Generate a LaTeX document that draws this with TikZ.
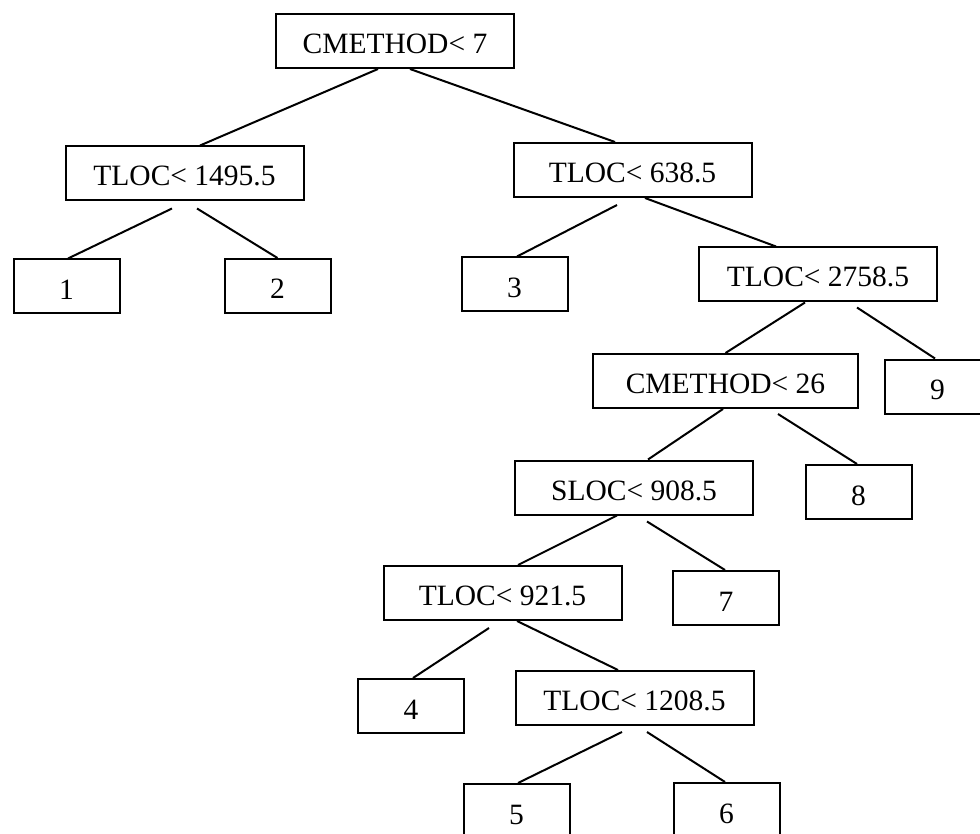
\documentclass[tikz,border=0pt]{standalone}
\usepackage{fontspec}
\setmainfont{Liberation Serif}
\begin{document}
\begin{tikzpicture}[x=1pt,y=-1pt,
  every node/.style={font=\fontsize{29.5}{34}\selectfont},
  split/.style={draw, line width=2pt, minimum width=238pt, minimum height=54pt,
    inner sep=0pt, text height=25pt, text depth=0pt},
  wide/.style={split, minimum width=265pt},
  leaf/.style={draw, line width=2pt, minimum width=106pt, minimum height=54pt,
    inner sep=0pt, text height=26pt, text depth=0pt},
  edge/.style={line width=2pt}]
  \useasboundingbox (0,0) rectangle (980,834);
  \fill[white] (0,0) rectangle (980,834);
  \clip (0,0) rectangle (980,834);

  % decision nodes
  \node[split] (top)   at (395,41)    {CMETHOD< 7};
  \node[split] (n1495) at (184.5,173.5) {TLOC< 1495.5};
  \node[split] (n638)  at (632.5,170) {TLOC< 638.5};
  \node[split] (n2758) at (818,274.5) {TLOC< 2758.5};
  \node[wide]  (n26)   at (725.5,381) {CMETHOD< 26};
  \node[split] (n908)  at (634,487.5) {SLOC< 908.5};
  \node[split] (n921)  at (502.5,593) {TLOC< 921.5};
  \node[split] (n1208) at (634.5,698) {TLOC< 1208.5};

  % terminal nodes
  \node[leaf] (l1) at (66.5,286.5) {1};
  \node[leaf] (l2) at (277.5,286)  {2};
  \node[leaf] (l3) at (514.5,284.5) {3};
  \node[leaf] (l9) at (937.5,386.5) {9};
  \node[leaf] (l8) at (858.5,492)  {8};
  \node[leaf] (l7) at (726,598)    {7};
  \node[leaf] (l4) at (411,706)    {4};
  \node[leaf] (l5) at (516.5,811)  {5};
  \node[leaf] (l6) at (726.5,810)  {6};

  % branches
  \draw[edge] ([xshift=-17pt]top.south) -- ([xshift=15.5pt]n1495.north);
  \draw[edge] ([xshift=15pt]top.south) -- ([xshift=-17.5pt]n638.north);
  \draw[edge] ([xshift=-12.5pt,yshift=-7pt]n1495.south) -- ([xshift=1.5pt]l1.north);
  \draw[edge] ([xshift=12.5pt,yshift=-7pt]n1495.south) -- (l2.north);
  \draw[edge] ([xshift=-15.5pt,yshift=-7pt]n638.south) -- ([xshift=2.5pt]l3.north);
  \draw[edge] ([xshift=12.5pt]n638.south) -- ([xshift=-42pt]n2758.north);
  \draw[edge] ([xshift=-13pt]n2758.south) -- (n26.north);
  \draw[edge] ([xshift=39pt,yshift=-5pt]n2758.south) -- ([xshift=-2.5pt]l9.north);
  \draw[edge] ([xshift=-2.5pt]n26.south) -- ([xshift=14pt]n908.north);
  \draw[edge] ([xshift=52.5pt,yshift=-5pt]n26.south) -- ([xshift=-1.5pt]l8.north);
  \draw[edge] ([xshift=-17pt]n908.south) -- ([xshift=15.5pt]n921.north);
  \draw[edge] ([xshift=13pt,yshift=-6pt]n908.south) -- ([xshift=-1pt]l7.north);
  \draw[edge] ([xshift=-13.5pt,yshift=-7pt]n921.south) -- ([xshift=2pt]l4.north);
  \draw[edge] ([xshift=14.5pt]n921.south) -- ([xshift=-16.5pt]n1208.north);
  \draw[edge] ([xshift=-12.5pt,yshift=-6pt]n1208.south) -- ([xshift=1.5pt]l5.north);
  \draw[edge] ([xshift=12.5pt,yshift=-6pt]n1208.south) -- ([xshift=-1.5pt]l6.north);
\end{tikzpicture}
\end{document}
